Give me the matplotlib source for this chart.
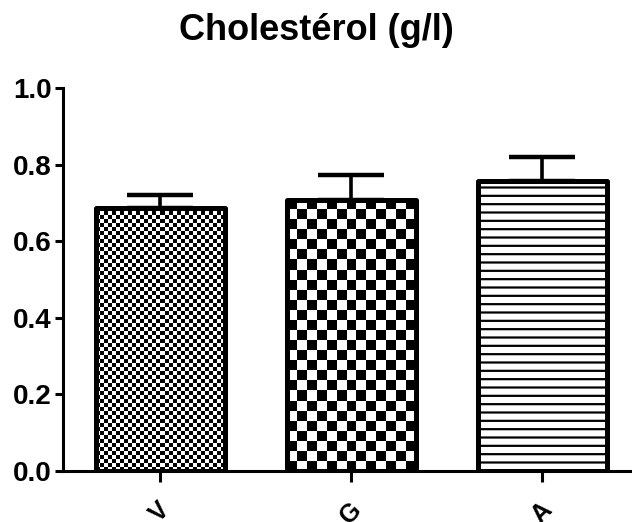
import matplotlib
matplotlib.use("Agg")
import matplotlib.pyplot as plt
import numpy as np

plt.rcParams['font.family'] = ['Liberation Sans', 'DejaVu Sans']
plt.rcParams['hatch.linewidth'] = 1.6

groups = ['V', 'G', 'A']
means = [0.687, 0.708, 0.757]
sem = [0.033, 0.065, 0.063]

fig = plt.figure(figsize=(6.32, 5.22), dpi=100)
ax = fig.add_axes([0.0997, 0.0977, 0.9003, 0.7337])

x = np.arange(len(groups))
width = 0.675
ax.set_xlim(-0.508, 2.47)
ax.set_ylim(0, 1.0)

bars = ax.bar(x, means, width=width, color='white', edgecolor='black',
              linewidth=3.6, joinstyle='round', zorder=3)
bars[0].set_facecolor('none')
bars[1].set_facecolor('none')
bars[2].set_hatch('--')

# checkerboard fills for the first two bars (cell size in pixels)
fig.canvas.draw()
for bar, cell in [(bars[0], 4.0), (bars[1], 10.0)]:
    x0, y0 = bar.get_x(), bar.get_y()
    x1, y1 = x0 + bar.get_width(), y0 + bar.get_height()
    (px0, py0), (px1, py1) = ax.transData.transform([(x0, y0), (x1, y1)])
    nc = max(1, int(round((px1 - px0) / cell)))
    nr = max(1, int(round((py1 - py0) / cell)))
    board = (np.add.outer(np.arange(nr), np.arange(nc)) % 2).astype(float)
    im = ax.imshow(board, cmap='gray', extent=(x0, x1, y0, y1), origin='lower',
                   interpolation='nearest', aspect='auto', zorder=2)
    im.set_clip_path(bar)
ax.set_xlim(-0.508, 2.47)
ax.set_ylim(0, 1.0)

ax.errorbar(x, means, yerr=[np.zeros(len(sem)), sem], fmt='none', ecolor='black',
            elinewidth=2.6, capsize=24, capthick=3.2, zorder=1)

for s in ['top', 'right']:
    ax.spines[s].set_visible(False)
for s in ['left', 'bottom']:
    ax.spines[s].set_linewidth(2.2)

ax.set_yticks([0.0, 0.2, 0.4, 0.6, 0.8, 1.0])
ax.set_yticklabels(['0.0', '0.2', '0.4', '0.6', '0.8', '1.0'],
                   fontsize=20, fontweight='bold')
ax.set_xticks(x)
ax.set_xticklabels(groups, fontsize=18, fontweight='bold', rotation=45,
                   ha='center', va='top')
ax.tick_params(axis='y', direction='out', length=6, width=2.2, pad=2)
ax.tick_params(axis='x', direction='out', length=8, width=2.2, pad=11)

fig.suptitle('Cholestérol (g/l)', fontsize=26, fontweight='bold', y=0.975)

fig.savefig('out.png', dpi=100)
